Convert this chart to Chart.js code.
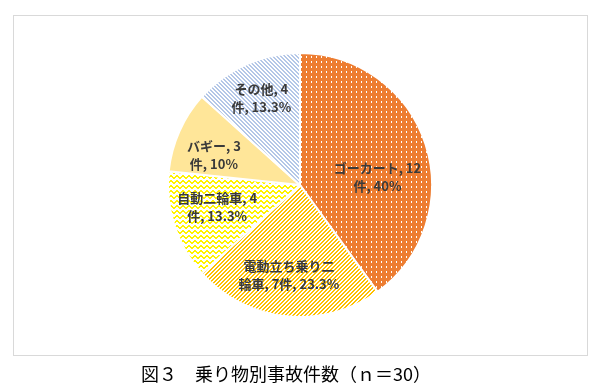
<!DOCTYPE html>
<html>
<head>
<meta charset="utf-8">
<script src="https://cdn.jsdelivr.net/npm/chart.js@4.4.0/dist/chart.umd.min.js"></script>
<style>
  html, body { margin: 0; padding: 0; background: #fff; }
  #wrap { position: relative; width: 609px; height: 389px; }
  #frame { position: absolute; left: 13px; top: 15px; width: 573px; height: 339px; border: 1px solid #d9d9d9; }
  #chart { position: absolute; left: 0; top: 0; }
  #title { position: absolute; left: 0; width: 572px; top: 360px; text-align: center;
           font: 18px "Noto Sans CJK JP", sans-serif; color: #000; white-space: pre; }
</style>
</head>
<body>
<div id="wrap">
  <div id="frame"></div>
  <canvas id="chart" width="609" height="389"></canvas>
  <div id="title">図３　乗り物別事故件数（ｎ＝30）</div>
</div>
<script>
// ---- Data ----------------------------------------------------------------
const categories = ["ゴーカート", "電動立ち乗り二輪車", "自動二輪車", "バギー", "その他"];
const counts = [12, 7, 4, 3, 4];
const percents = ["40%", "23.3%", "13.3%", "10%", "13.3%"];
// label text as wrapped in the original
const labelLines = [
  ["ゴーカート, 12", "件, 40%"],
  ["電動立ち乗り二", "輪車, 7件, 23.3%"],
  ["自動二輪車, 4", "件, 13.3%"],
  ["バギー, 3", "件, 10%"],
  ["その他, 4", "件, 13.3%"],
];

// ---- Fill patterns -------------------------------------------------------

function tile(w, h, draw) {
  const c = document.createElement("canvas");
  c.width = w;
  c.height = h;
  const g = c.getContext("2d");
  draw(g);
  return document.getElementById("chart").getContext("2d").createPattern(c, "repeat");
}

const dots = tile(5, 5, (g) => {
  g.fillStyle = "#ED7D31";
  g.fillRect(0, 0, 5, 5);
  g.fillStyle = "#fff";
  g.fillRect(1, 1, 1, 2);
});

const upStripes = tile(4, 4, (g) => {
  g.fillStyle = "#fff";
  g.fillRect(0, 0, 4, 4);
  g.fillStyle = "#FFC000";
  for (let i = 0; i < 4; i++) {
    g.fillRect(3 - i, i, 1, 1);
    g.fillRect((4 - i) % 4, i, 1, 1);
  }
});

const zigzag = tile(6, 5, (g) => {
  g.fillStyle = "#fff";
  g.fillRect(0, 0, 6, 5);
  g.fillStyle = "#FFF200";
  const ys = [2, 1, 0, 0, 1, 2];
  for (let x = 0; x < 6; x++) {
    g.fillRect(x, ys[x], 1, 2);
  }
});

const downStripes = tile(4, 4, (g) => {
  g.fillStyle = "#fff";
  g.fillRect(0, 0, 4, 4);
  g.fillStyle = "#B4C7E7";
  for (let i = 0; i < 4; i++) {
    g.fillRect(i, i, 1, 1);
    g.fillRect((i + 1) % 4, i, 1, 1);
  }
});

const fills = [dots, upStripes, zigzag, "#FFE699", downStripes];

// ---- Data labels inside the slices ---------------------------------------

const labelRadius = [0.59, 0.69, 0.65, 0.69, 0.72];
const labelTurn = [12, 1, 3, -5, 0]; // degrees

const sliceLabels = {
  id: "sliceLabels",
  afterDatasetsDraw(chart) {
    const ctx = chart.ctx;
    const arcs = chart.getDatasetMeta(0).data;
    ctx.save();
    ctx.font = "bold 13px 'Noto Sans CJK JP', sans-serif";
    ctx.fillStyle = "#3a3a3a";
    ctx.textAlign = "center";
    ctx.textBaseline = "middle";
    arcs.forEach((arc, i) => {
      const mid = (arc.startAngle + arc.endAngle) / 2 + (labelTurn[i] * Math.PI) / 180;
      const r = arc.outerRadius * labelRadius[i];
      const x = arc.x + Math.cos(mid) * r;
      const y = arc.y + Math.sin(mid) * r;
      const lines = labelLines[i];
      lines.forEach((t, k) => {
        ctx.fillText(t, x, y + (k - (lines.length - 1) / 2) * 18);
      });
    });
    ctx.restore();
  },
};

// ---- Chart ---------------------------------------------------------------

new Chart(document.getElementById("chart"), {
  type: "pie",
  data: {
    labels: categories,
    datasets: [
      {
        data: counts,
        backgroundColor: fills,
        borderColor: "#fff",
        borderWidth: 2,
      },
    ],
  },
  options: {
    responsive: false,
    animation: false,
    layout: { padding: { top: 52, bottom: 71, left: 100, right: 109 } },
    plugins: {
      legend: { display: false },
      tooltip: { enabled: false },
    },
  },
  plugins: [sliceLabels],
});
</script>
</body>
</html>
